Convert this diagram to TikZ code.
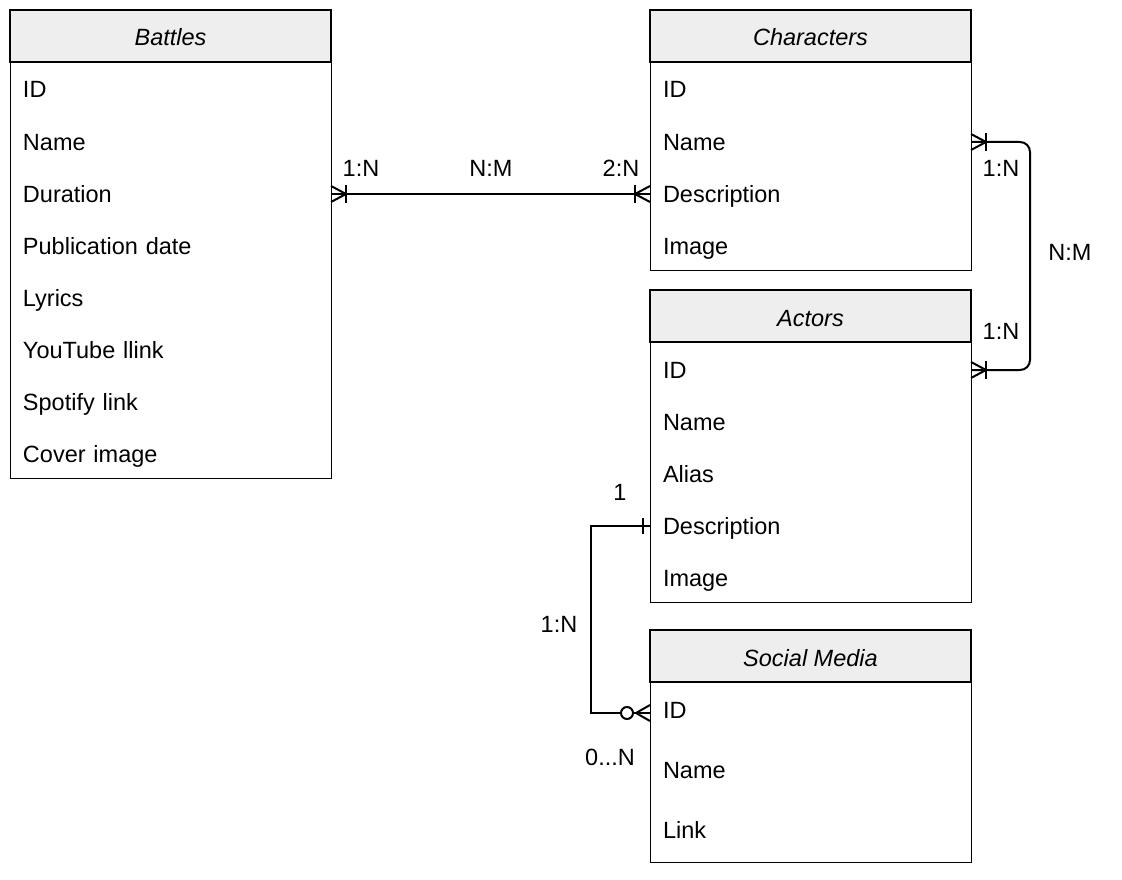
\documentclass[tikz,border=0pt]{standalone}
\usepackage{fontspec}
\setmainfont{Liberation Sans}
\definecolor{hdrgray}{HTML}{EEEEEE}
\begin{document}
\begin{tikzpicture}[x=1pt,y=-1pt,
  every node/.style={font=\fontsize{23.5}{28}\selectfont, outer sep=0pt},
  hdr/.style={draw, line width=1.5pt, fill=hdrgray, minimum width=321pt,
    minimum height=52pt, inner sep=0pt, anchor=north west,
    text height=21pt, text depth=1pt,
    font=\fontsize{23.5}{28}\selectfont\itshape},
  row/.style={minimum width=321pt, minimum height=52pt, text width=295pt,
    align=left, inner xsep=13pt, inner ysep=0pt, anchor=north west,
    text height=21pt, text depth=1pt},
  % taller rows keep the text near the top, as in the 52pt rows
  tall/.style={row, minimum height=60pt, text height=13pt, text depth=1pt},
  body/.style={draw, line width=1pt},
  rel/.style={line width=2pt},
  lbl/.style={inner sep=0pt},
  % crow's foot with a bar: one-to-many end
  pics/onemany/.style={code={
    \draw[rel] (0,-8) -- (15,0) -- (0,8);
    \draw[rel] (15,-9) -- (15,9);
  }},
  % single bar: exactly-one end
  pics/onlyone/.style={code={
    \draw[rel] (7,-8) -- (7,8);
  }},
  % crow's foot with a circle: zero-to-many end
  pics/zeromany/.style={code={
    \draw[rel] (0,-8) -- (14,0) -- (0,8);
    \draw[rel, fill=white] (23,0) circle (6);
  }}
]
\useasboundingbox (0,0) rectangle (1122,880);

% Battles
\node[hdr] (bat) at (10,10) {Battles};
\node[row] (bat-id)  at (bat.south west) {ID};
\node[row] (bat-nam) at (bat-id.south west) {Name};
\node[row] (bat-dur) at (bat-nam.south west) {Duration};
\node[row] (bat-pub) at (bat-dur.south west) {Publication date};
\node[row] (bat-lyr) at (bat-pub.south west) {Lyrics};
\node[row] (bat-yt)  at (bat-lyr.south west) {YouTube llink};
\node[row] (bat-sp)  at (bat-yt.south west) {Spotify link};
\node[row] (bat-cov) at (bat-sp.south west) {Cover image};
\draw[body] (bat-id.north west) rectangle (bat-cov.south east);

% Characters
\node[hdr] (chr) at (650,10) {Characters};
\node[row] (chr-id)   at (chr.south west) {ID};
\node[row] (chr-name) at (chr-id.south west) {Name};
\node[row] (chr-desc) at (chr-name.south west) {Description};
\node[row] (chr-img)  at (chr-desc.south west) {Image};
\draw[body] (chr-id.north west) rectangle (chr-img.south east);

% Actors
\node[hdr] (act) at (650,290) {Actors};
\node[row] (act-id)   at (act.south west) {ID};
\node[row] (act-name) at (act-id.south west) {Name};
\node[row] (act-al)   at (act-name.south west) {Alias};
\node[row] (act-desc) at (act-al.south west) {Description};
\node[row] (act-img)  at (act-desc.south west) {Image};
\draw[body] (act-id.north west) rectangle (act-img.south east);

% Social Media
\node[hdr] (so) at (650,630) {Social Media};
\node[tall] (so-id)   at (so.south west) {ID};
\node[tall] (so-name) at (so-id.south west) {Name};
\node[tall] (so-link) at (so-name.south west) {Link};
\draw[body] (so-id.north west) rectangle (so-link.south east);

% connector end points sit slightly below the row centres
\coordinate (e-bat) at ([yshift=-2pt]bat-dur.east);
\coordinate (e-chd) at ([yshift=-2pt]chr-desc.west);
\coordinate (e-chn) at ([yshift=-2pt]chr-name.east);
\coordinate (e-aid) at ([yshift=-2pt]act-id.east);
\coordinate (e-ade) at ([yshift=-2pt]act-desc.west);
\coordinate (e-sid) at ([yshift=-1pt]so-id.west);

% Battles -- Characters
\draw[rel] (e-bat) -- (e-chd);
\pic at (e-bat) {onemany};
\pic[rotate=180] at (e-chd) {onemany};
\node[lbl] (l1) at (361,168) {1:N};
\node[lbl] (l2) at (491,168) {N:M};
\node[lbl] (l3) at (621,168) {2:N};

% Characters -- Actors
\draw[rel, rounded corners=10pt] (e-chn) -- ++(59,0) |- (e-aid);
\pic at (e-chn) {onemany};
\pic at (e-aid) {onemany};
\node[lbl] (l4) at (1001,168) {1:N};
\node[lbl] (l5) at (1001,331) {1:N};
\node[lbl] (l6) at (1070,252) {N:M};

% Actors -- Social Media
\draw[rel] (e-ade) -- ++(-59,0) |- (e-sid);
\pic[rotate=180] at (e-ade) {onlyone};
\pic[rotate=180] at (e-sid) {zeromany};
\node[lbl] (l7) at (620,492) {1};
\node[lbl] (l8) at (559,624) {1:N};
\node[lbl] (l9) at (610,757) {0...N};
\end{tikzpicture}
\end{document}
